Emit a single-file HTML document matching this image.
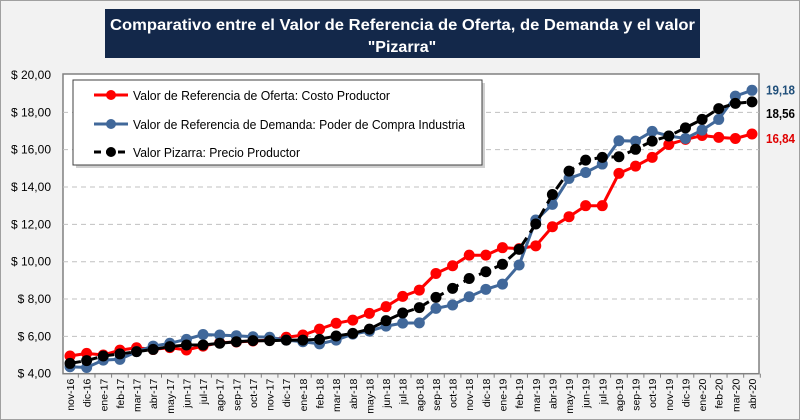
<!DOCTYPE html>
<html><head><meta charset="utf-8">
<style>
html,body{margin:0;padding:0;}
body{width:800px;height:420px;overflow:hidden;background:#f2f2f2;font-family:"Liberation Sans",sans-serif;}
svg{position:absolute;left:0;top:0;}
</style></head>
<body>
<svg id="chart" width="800" height="420" xmlns="http://www.w3.org/2000/svg"></svg>
<script>
const categories=["nov-16","dic-16","ene-17","feb-17","mar-17","abr-17","may-17","jun-17","jul-17","ago-17","sep-17","oct-17","nov-17","dic-17","ene-18","feb-18","mar-18","abr-18","may-18","jun-18","jul-18","ago-18","sep-18","oct-18","nov-18","dic-18","ene-19","feb-19","mar-19","abr-19","may-19","jun-19","jul-19","ago-19","sep-19","oct-19","nov-19","dic-19","ene-20","feb-20","mar-20","abr-20"];
const ofertaValues=[4.95,5.09,5.0,5.26,5.39,5.3,5.4,5.27,5.48,5.66,5.7,5.75,5.8,5.95,6.07,6.39,6.7,6.87,7.23,7.59,8.14,8.48,9.37,9.78,10.35,10.35,10.75,10.7,10.85,11.87,12.41,13.0,13.0,14.73,15.12,15.59,16.28,16.55,16.76,16.66,16.6,16.84];
const demandaValues=[4.37,4.33,4.73,4.77,5.18,5.48,5.63,5.84,6.1,6.07,6.03,5.98,5.95,5.8,5.71,5.6,5.8,6.12,6.28,6.55,6.71,6.72,7.5,7.68,8.12,8.52,8.8,9.82,12.23,13.07,14.46,14.78,15.23,16.48,16.46,16.98,16.73,16.6,17.05,17.62,18.87,19.18];
const pizarraValues=[4.55,4.7,4.95,5.06,5.18,5.3,5.45,5.54,5.54,5.63,5.71,5.77,5.77,5.8,5.8,5.84,6.02,6.16,6.39,6.84,7.25,7.54,8.09,8.57,9.1,9.46,9.86,10.66,12.02,13.6,14.85,15.44,15.59,15.62,16.02,16.46,16.73,17.17,17.62,18.2,18.48,18.56];
const yTicks=[4,6,8,10,12,14,16,18,20];
const yTickLabels=["$ 4,00","$ 6,00","$ 8,00","$ 10,00","$ 12,00","$ 14,00","$ 16,00","$ 18,00","$ 20,00"];
const seriesNames=["Valor de Referencia de Oferta: Costo Productor","Valor de Referencia de Demanda: Poder de Compra Industria","Valor Pizarra: Precio Productor"];
const endLabels=["16,84","19,18","18,56"];

const NS="http://www.w3.org/2000/svg";
const svg=document.getElementById('chart');
const PL=63,PR=759,PT=74,PB=373.7;
const x0=70,xStep=(752-70)/41;
function xScale(i){return x0+i*xStep;}
function yScale(v){return PB-(v-4)/(20-4)*(PB-75);}
function mk(tag,attrs,parent){const e=document.createElementNS(NS,tag);for(const k in attrs)e.setAttribute(k,attrs[k]);(parent||svg).appendChild(e);return e;}

const fr=mk('rect',{x:0.5,y:0.5,width:799,height:419,fill:'#f2f2f2',stroke:'#a0a0a0'});



// title
const tb=mk('rect',{x:105,y:9,width:595,height:49,fill:'#13284a'});


const t1=mk('text',{x:110,y:30,'font-size':16,'font-weight':'bold',fill:'#fff',textLength:585,lengthAdjust:'spacingAndGlyphs'});
t1.textContent='Comparativo entre el Valor de Referencia de Oferta, de Demanda y el valor';


const t2=mk('text',{x:402,y:52,'text-anchor':'middle','font-size':16,'font-weight':'bold',fill:'#fff'});
t2.textContent='"Pizarra"';



// plot area
const pa=mk('rect',{x:PL,y:PT,width:PR-PL,height:PB-PT,fill:'#fff',stroke:'#808080','stroke-width':1.5});



yTicks.forEach((v,i)=>{
  const y=yScale(v);
  if(v>4&&v<20){const g=mk('line',{x1:PL,x2:PR,y1:y,y2:y,stroke:'#c0c0c0','stroke-dasharray':'5,4'});
  
  }
  const t=mk('text',{x:51,y:y+4,'text-anchor':'end','font-size':12,fill:'#000'});
  t.textContent=yTickLabels[i];
  
  
});
categories.forEach((c,i)=>{
  const x=xScale(i);
  const tk=mk('line',{x1:x+xStep/2,x2:x+xStep/2,y1:PB,y2:PB+4,stroke:'#808080'});
  
  
  const t=mk('text',{x:0,y:0,'text-anchor':'end','font-size':10.5,fill:'#000',transform:`translate(${x+4},${PB+5}) rotate(-90)`});
  t.textContent=c;
  
  
});

const series=[
 {vals:ofertaValues,color:'#ff0000',dash:null,name:'oferta'},
 {vals:demandaValues,color:'#41689a',dash:null,name:'demanda'},
 {vals:pizarraValues,color:'#000000',dash:'11,6',name:'pizarra'}
];
series.forEach(s=>{
  const pts=s.vals.map((v,i)=>xScale(i).toFixed(1)+','+yScale(v).toFixed(1)).join(' ');
  const attrs={points:pts,fill:'none',stroke:s.color,'stroke-width':3};
  if(s.dash)attrs['stroke-dasharray']=s.dash;
  const pl=mk('polyline',attrs);
  
  
  s.vals.forEach((v,i)=>{
    const c=mk('circle',{cx:xScale(i),cy:yScale(v),r:5.5,fill:s.color});
    
    
  });
});

// end labels
const endY=[yScale(ofertaValues[41])+9,yScale(demandaValues[41])+4,yScale(pizarraValues[41])+4+12];
const endColors=['#e00000','#1f4e79','#000'];
endLabels.forEach((l,i)=>{
  const t=mk('text',{x:766,y:endY[i],'font-size':12.5,'font-weight':'bold',fill:endColors[i],textLength:29,lengthAdjust:'spacingAndGlyphs'});
  t.textContent=l;
  
  
});

// legend
const lg=mk('g',{});


mk('rect',{x:76,y:83,width:409,height:85,fill:'#b0b0b0',opacity:0.6},lg);
mk('rect',{x:73,y:80,width:409,height:85,fill:'#fff',stroke:'#404040','stroke-width':1},lg);
const ly=[95,124,152];
const lw=[257,332,167];
series.forEach((s,i)=>{
  const la={x1:94,x2:128,y1:ly[i],y2:ly[i],stroke:s.color,'stroke-width':3};
  if(s.dash)la['stroke-dasharray']='7,5';
  mk('line',la,lg);
  mk('circle',{cx:111,cy:ly[i],r:5,fill:s.color},lg);
  const t=mk('text',{x:133,y:ly[i]+5,'font-size':13,fill:'#000',textLength:lw[i],lengthAdjust:'spacingAndGlyphs'},lg);
  t.textContent=seriesNames[i];
  
  
});
</script>
</body></html>
